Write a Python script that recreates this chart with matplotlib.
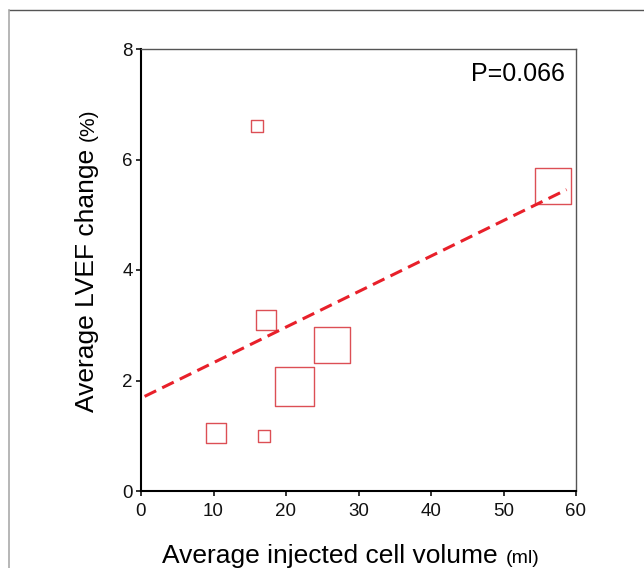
import matplotlib.pyplot as plt
from matplotlib.lines import Line2D

plt.rcParams['font.family'] = ['Liberation Sans', 'DejaVu Sans']

# Study data
cell_volume = [16.0, 17.2, 21.2, 26.4, 56.8, 10.4, 16.9]
lvef_change = [6.6, 3.1, 1.9, 2.65, 5.52, 1.05, 0.99]
study_weight = [12, 20, 39, 36, 36, 20, 12]

# Fitted line
fit_intercept = 1.68
fit_slope = 0.0643
fit_range = [0.5, 58.7]

fig = plt.figure(figsize=(6.44, 5.68), dpi=100)
ax = fig.add_axes([141 / 644, 1 - 491 / 568, 435 / 644, 442 / 568])

# outer frame (top darker, left lighter)
top = 1 - 9.5 / 568
left = 8.5 / 644
fig.lines.append(Line2D([left, 1], [top, top], transform=fig.transFigure,
                        color='#555555', linewidth=1))
fig.lines.append(Line2D([left, left], [0, top], transform=fig.transFigure,
                        color='#aaaaaa', linewidth=1.2))

sizes = [(w * 0.72) ** 2 for w in study_weight]
ax.scatter(cell_volume, lvef_change, s=sizes, marker='s',
           facecolors='none', edgecolors='#dc4f55', linewidths=1, zorder=3)

fit_y = [fit_intercept + fit_slope * x for x in fit_range]
ax.plot(fit_range, fit_y, color='#e8202a', linestyle=(0, (4.2, 2.2)),
        linewidth=2.2, zorder=4)

ax.set_xlim(0, 60)
ax.set_ylim(0, 8)
ax.set_xticks(range(0, 61, 10))
ax.set_yticks(range(0, 9, 2))
ax.tick_params(direction='out', length=3.5, width=1.2, labelsize=13.5,
               colors='#111111')
ax.tick_params(axis='x', pad=5)
ax.tick_params(axis='y', pad=2.5)
for side in ['left', 'bottom']:
    ax.spines[side].set_linewidth(1.5)
for side in ['top', 'right']:
    ax.spines[side].set_linewidth(1)
    ax.spines[side].set_color('#555555')

ax.text(0.975, 0.943, 'P=0.066', transform=ax.transAxes, ha='right',
        va='center', fontsize=18)

# axis labels with smaller units
renderer = fig.canvas.get_renderer()
xl = fig.text(162 / 644, 5 / 568, 'Average injected cell volume', fontsize=19,
              ha='left', va='baseline')
bb = xl.get_window_extent(renderer)
fig.text((bb.x1 + 8) / 644, 5 / 568, '(ml)', fontsize=14, ha='left',
         va='baseline')

yl = fig.text(94 / 644, 1 - 412 / 568, 'Average LVEF change', fontsize=19,
              rotation=90, ha='left', va='baseline', rotation_mode='anchor')
bb = yl.get_window_extent(renderer)
fig.text(94 / 644, (bb.y1 + 8) / 568, '(%)', fontsize=15, rotation=90,
         ha='left', va='baseline', rotation_mode='anchor')

fig.savefig('out.png', dpi=100)
